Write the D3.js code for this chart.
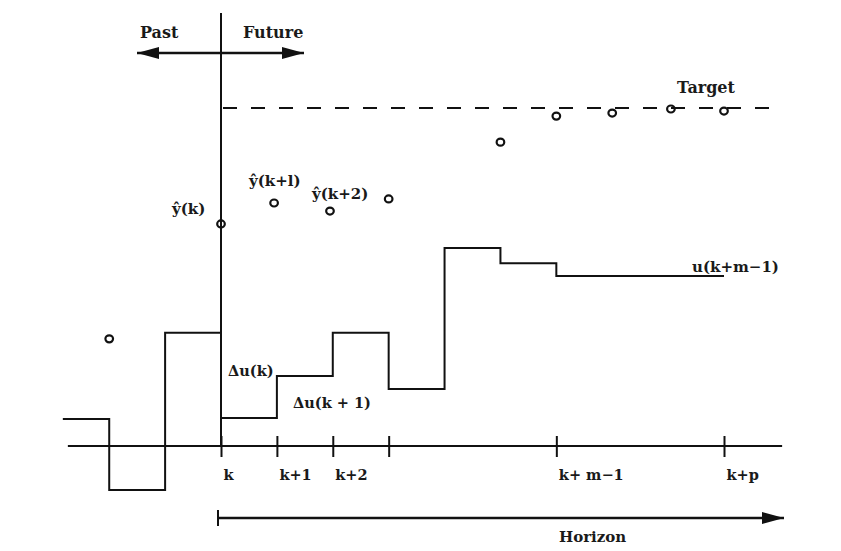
<!DOCTYPE html>
<html>
<head>
<meta charset="utf-8">
<script src="https://cdn.jsdelivr.net/npm/d3@7"></script>
<style>
html,body{margin:0;padding:0;background:#fff;}
svg{display:block;}
text{font-family:"DejaVu Serif","Liberation Serif",serif;font-weight:bold;fill:#1a1a1a;}
</style>
</head>
<body>
<svg id="chart" width="841" height="551"></svg>
<script>
// ---- data ----
const controlTimes = [-2.83, -2, -1, 0, 1, 2, 3, 4, 5, 6];
const controlValues = [0.8, -1.3, 3.35, 0.83, 2.07, 3.35, 1.69, 5.86, 5.41, 5.03];
const controlEnd = 9;
const outputTimes = [-2, 0, 0.95, 1.95, 3, 5, 6, 7, 8.05, 9];
const outputValues = [3.17, 6.57, 7.19, 6.95, 7.31, 8.99, 9.76, 9.85, 9.97, 9.91];
const targetValue = 10;
const tickTimes = [0, 1, 2, 3, 6, 9];
const tickLabels = ["k", "k+1", "k+2", "", "k+ m\u22121", "k+p"];

const svg = d3.select("#chart");
const x = d3.scaleLinear().domain([0, 9]).range([221, 724]);
const y = d3.scaleLinear().domain([0, 10]).range([446, 108]);

const defs = svg.append("defs");
function marker(id, w, h) {
  defs.append("marker").attr("id", id).attr("viewBox", `0 0 ${w} ${h}`)
    .attr("refX", w).attr("refY", h / 2).attr("markerWidth", w).attr("markerHeight", h)
    .attr("markerUnits", "userSpaceOnUse").attr("orient", "auto-start-reverse")
    .append("path").attr("d", `M0,0L${w},${h/2}L0,${h}Z`).attr("fill", "#111");
}
marker("arr", 22, 12);
marker("arrH", 22, 12);

// time axis line
svg.append("line").attr("x1", x(-2.74)).attr("x2", x(10.04))
  .attr("y1", y(0)).attr("y2", y(0)).attr("stroke", "#111").attr("stroke-width", 2);

// axis ticks and labels via d3.axisBottom
const axis = d3.axisBottom(x).tickValues(tickTimes)
  .tickFormat((d, i) => tickLabels[i]).tickSizeInner(11).tickSizeOuter(0);
const ag = svg.append("g").attr("transform", `translate(0,${y(0)})`).call(axis);
ag.select(".domain").remove();
ag.selectAll(".tick line").attr("y1", -10).attr("stroke", "#111").attr("stroke-width", 2);
ag.selectAll(".tick text").attr("text-anchor", "start").attr("dx", 2).attr("y", 24)
  .attr("font-size", 14.5).attr("font-family", "DejaVu Serif").attr("font-weight", "bold").attr("fill", "#1a1a1a");

// vertical line at k
svg.append("line").attr("x1", x(0)).attr("x2", x(0)).attr("y1", 13).attr("y2", y(0))
  .attr("stroke", "#111").attr("stroke-width", 2);

// Past / Future arrows
svg.append("line").attr("x1", x(0)).attr("x2", 137).attr("y1", 53).attr("y2", 53)
  .attr("stroke", "#111").attr("stroke-width", 2.5).attr("marker-end", "url(#arr)");
svg.append("line").attr("x1", x(0)).attr("x2", 304).attr("y1", 53).attr("y2", 53)
  .attr("stroke", "#111").attr("stroke-width", 2.5).attr("marker-end", "url(#arr)");
svg.append("text").attr("x", 140).attr("y", 38).attr("font-size", 16).text("Past");
svg.append("text").attr("x", 243).attr("y", 38).attr("font-size", 16).text("Future");

// target dashed line
svg.append("line").attr("x1", x(0)).attr("x2", 772).attr("y1", y(targetValue)).attr("y2", y(targetValue))
  .attr("stroke", "#111").attr("stroke-width", 2).attr("stroke-dasharray", "14,14").attr("stroke-dashoffset", -2);
svg.append("text").attr("x", 677).attr("y", 93).attr("font-size", 16).text("Target");

// control steps
const ctrl = controlTimes.map((t, i) => [t, controlValues[i]]);
ctrl.push([controlEnd, controlValues[controlValues.length - 1]]);
svg.append("path").datum(ctrl)
  .attr("d", d3.line().x(d => x(d[0])).y(d => y(d[1])).curve(d3.curveStepAfter))
  .attr("fill", "none").attr("stroke", "#111").attr("stroke-width", 2);

// predicted outputs
svg.selectAll("ellipse.o").data(outputTimes.map((t, i) => [t, outputValues[i]])).enter()
  .append("ellipse").attr("class", "o")
  .attr("cx", d => x(d[0])).attr("cy", d => y(d[1])).attr("rx", 3.8).attr("ry", 3.5)
  .attr("fill", "none").attr("stroke", "#111").attr("stroke-width", 2.2);

// labels
svg.append("text").attr("x", 172).attr("y", 214).attr("font-size", 15).text("\u0177(k)");
svg.append("text").attr("x", 249).attr("y", 186).attr("font-size", 15).text("\u0177(k+l)");
svg.append("text").attr("x", 312).attr("y", 199).attr("font-size", 15).text("\u0177(k+2)");

svg.append("text").attr("x", 228).attr("y", 376).attr("font-size", 14.5).text("\u0394u(k)");
svg.append("text").attr("x", 293).attr("y", 408).attr("font-size", 14.5).text("\u0394u(k + 1)");
svg.append("text").attr("x", 692).attr("y", 272).attr("font-size", 15).text("u(k+m\u22121)");

// Horizon arrow
svg.append("line").attr("x1", 218).attr("x2", 218).attr("y1", 510).attr("y2", 526)
  .attr("stroke", "#111").attr("stroke-width", 2);
svg.append("line").attr("x1", 218).attr("x2", 784).attr("y1", 518).attr("y2", 518)
  .attr("stroke", "#111").attr("stroke-width", 2.5).attr("marker-end", "url(#arrH)");
svg.append("text").attr("x", 559).attr("y", 542).attr("font-size", 15).text("Horizon");
</script>
</body>
</html>
